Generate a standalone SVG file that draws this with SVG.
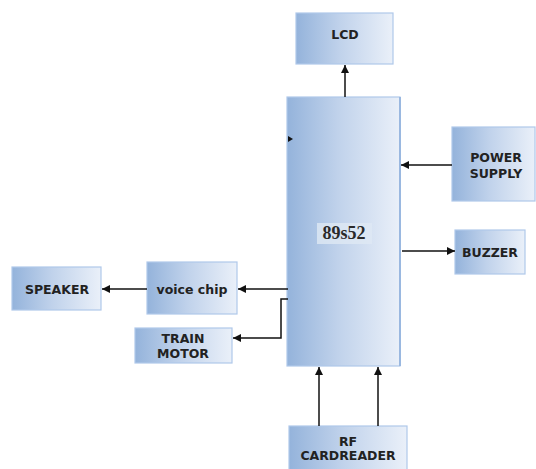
<svg xmlns="http://www.w3.org/2000/svg" width="536" height="469" viewBox="0 0 536 469">
<defs>
<linearGradient id="g" x1="0" y1="0" x2="1" y2="0">
<stop offset="0" stop-color="#94b3db"/>
<stop offset="0.45" stop-color="#c0d2eb"/>
<stop offset="1" stop-color="#eaf0f9"/>
</linearGradient>
<marker id="ah" viewBox="0 0 8 8" refX="8" refY="4" markerWidth="8" markerHeight="8" markerUnits="userSpaceOnUse" orient="auto">
<path d="M0,0 L8,4 L0,8 z" fill="#111"/>
</marker>
</defs>
<style>
.box{fill:url(#g);stroke:#b0c8ea;stroke-width:1.2}
.t{font-family:"DejaVu Sans",sans-serif;font-weight:bold;font-size:12.5px;fill:#222;text-anchor:middle}
.c{fill:none;stroke:#111;stroke-width:1.5;marker-end:url(#ah)}
</style>
<rect width="536" height="469" fill="#fff"/>
<g id="lcd"><rect class="box" x="296" y="13" width="97" height="51"/><text class="t" x="345" y="39">LCD</text></g>
<g id="mcu"><rect class="box" x="287" y="97" width="113" height="269"/><line x1="400" y1="97" x2="400" y2="366" stroke="#9ab8e0" stroke-width="2"/>
<rect x="317" y="223" width="55" height="21" fill="#dfe8f4" opacity="0.8"/>
<text x="344" y="239" font-family="Liberation Serif,serif" font-weight="bold" font-size="18" fill="#2a2a2a" text-anchor="middle">89s52</text></g>
<g id="power"><rect class="box" x="452" y="127" width="83" height="74"/><text class="t" x="496" y="162">POWER</text><text class="t" x="496" y="178">SUPPLY</text></g>
<g id="buzzer"><rect class="box" x="455" y="230" width="70" height="44"/><text class="t" x="490" y="257">BUZZER</text></g>
<g id="speaker"><rect class="box" x="12" y="267" width="89" height="43"/><text class="t" x="57" y="294">SPEAKER</text></g>
<g id="voice"><rect class="box" x="147" y="262" width="90" height="52"/><text class="t" x="192" y="294">voice chip</text></g>
<g id="motor"><rect class="box" x="135" y="328" width="97" height="35"/><text class="t" x="183" y="343">TRAIN</text><text class="t" x="183" y="358">MOTOR</text></g>
<g id="rf"><rect class="box" x="289" y="426" width="118" height="45"/><text class="t" x="348" y="446">RF</text><text class="t" x="348" y="460">CARDREADER</text></g>
<g id="connectors">
<line class="c" x1="345" y1="97" x2="345" y2="65"/>
<line class="c" x1="452" y1="165" x2="401" y2="165"/>
<line class="c" x1="402" y1="251" x2="455" y2="251"/>
<line class="c" x1="288" y1="289" x2="238" y2="289"/>
<line class="c" x1="147" y1="289" x2="102" y2="289"/>
<polyline class="c" points="288,299 281,299 281,338 233,338"/>
<line class="c" x1="319" y1="426" x2="319" y2="367"/>
<line class="c" x1="378" y1="426" x2="378" y2="367"/>
<path d="M288,136 L293,139 L288,142 z" fill="#111"/>
</g>
</svg>
